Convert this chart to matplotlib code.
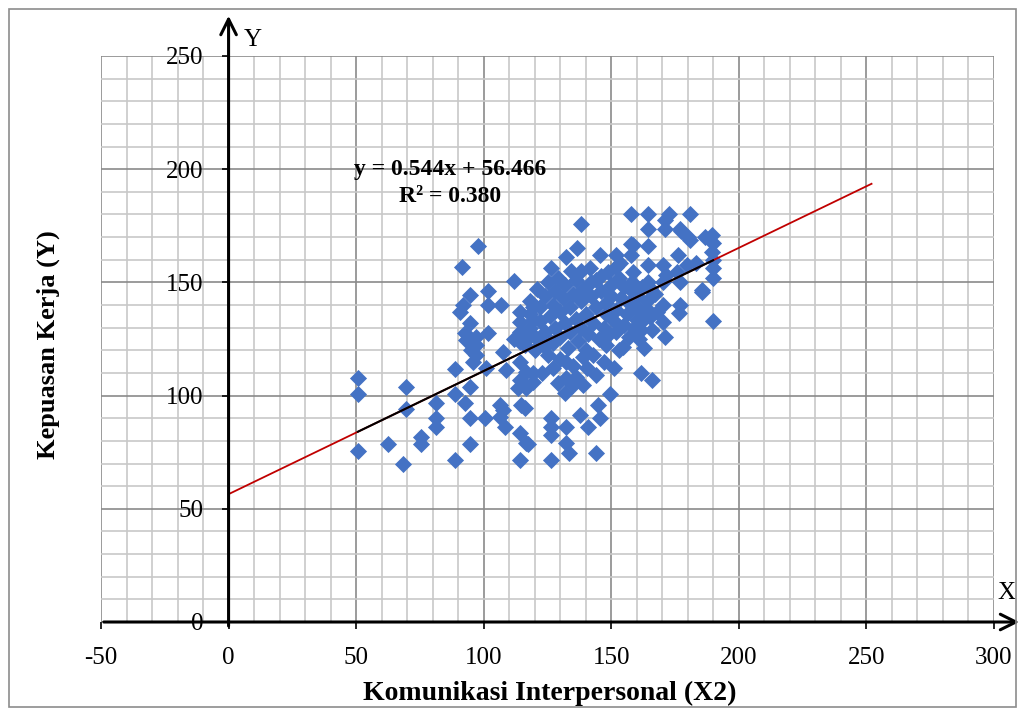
import matplotlib.pyplot as plt
from matplotlib.patches import Rectangle
import numpy as np

plt.rcParams['font.family'] = ['Liberation Serif', 'DejaVu Serif']
plt.rcParams['axes.unicode_minus'] = False

x_outer = [50.7, 50.7, 50.7, 62.5, 69.7, 69.7, 68.4, 75.6, 75.6, 81.4, 81.4, 81.4,
           88.6, 88.6, 92.5, 94.5, 100.4, 94.5, 88.6, 94.5,
           106.3, 106.3, 108.2, 107.5, 114.1, 117.4, 114.1, 116.1, 114.8]
y_outer = [107.6, 100.7, 75.7, 78.6, 103.7, 94.0, 69.8, 81.9, 78.6, 96.6, 90.0, 86.3,
           111.6, 100.7, 96.6, 90.0, 90.0, 78.6, 71.6, 104.0,
           95.8, 90.7, 86.3, 93.6, 83.3, 78.6, 71.6, 94.4, 95.8]

x_upleft = [97.8, 91.6, 111.8, 101.7, 94.5, 91.9, 90.6, 101.7, 106.9, 94.5, 92.5, 101.7,
            97.1, 97.1, 95.2, 97.1, 95.8, 101.0, 107.6, 108.9, 93.2]
y_upleft = [166.1, 156.9, 150.8, 146.3, 144.4, 140.0, 137.1, 140.0, 140.0, 131.9, 127.5, 127.5,
            126.0, 122.3, 120.1, 117.9, 115.0, 112.1, 119.4, 111.3, 124.6]

x_mid = [114.1, 114.1, 119.3, 114.1, 114.1, 116.7, 114.1, 116.7, 114.1, 119.3, 119.3, 113.5,
         116.7, 116.1, 112.0, 119.2]
y_mid = [137.1, 132.6, 139.3, 128.3, 123.8, 127.5, 115.0, 110.6, 106.9, 109.8, 106.1, 103.2,
         103.2, 122.3, 125.0, 133.4]

x_low = [149.4, 144.8, 137.6, 145.5, 140.9, 132.4, 126.5, 126.5, 126.5, 132.4, 133.5, 143.9,
         126.5, 116.7, 132.4, 139.0, 140.3, 139.0, 132.4, 127.2, 129.1, 131.8, 135.0, 148.1,
         154.6, 123.3, 127.2]
y_low = [100.6, 95.8, 91.4, 90.0, 86.0, 86.0, 90.0, 86.3, 82.6, 78.9, 74.5, 74.8,
         71.6, 78.9, 115.0, 117.2, 112.1, 104.7, 107.7, 112.1, 105.4, 101.0, 104.7, 122.3,
         121.6, 122.3, 123.1]

x_right = [189.7, 171.0, 161.8, 162.7, 161.8, 165.8, 170.3, 176.9, 176.6, 170.3, 164.4, 185.4,
           160.5, 165.1, 159.9]
y_right = [133.0, 126.0, 129.0, 120.9, 109.8, 106.9, 140.0, 140.0, 136.3, 132.6, 137.8, 145.9,
           137.8, 134.8, 133.4]

x_top = [138.3, 157.9, 164.4, 172.7, 180.8, 164.4, 171.0, 171.0, 176.9, 180.1, 189.3, 189.9,
         189.3, 189.9, 189.9, 186.7, 157.9, 164.4, 136.6, 132.4, 126.5, 134.4, 138.3, 145.5,
         152.0, 153.3, 157.9, 164.4, 170.3, 176.2, 179.5, 183.3, 164.4, 171.6, 176.9, 185.7,
         189.9, 148.8, 152.0, 141.6, 144.2, 158.6, 159.2, 175.6, 165.1, 170.3, 158.6, 158.6,
         180.8, 177.5]
y_top = [175.8, 180.2, 180.2, 180.2, 180.2, 173.4, 173.4, 177.6, 173.4, 170.2, 170.9, 167.3,
         163.6, 159.9, 156.2, 169.9, 167.0, 166.1, 165.0, 161.4, 156.2, 155.2, 155.2, 162.1,
         162.1, 158.4, 162.1, 157.7, 157.7, 162.1, 157.7, 158.4, 150.3, 153.3, 150.3, 146.6,
         151.8, 154.7, 156.9, 156.2, 151.1, 154.7, 148.1, 154.7, 147.4, 150.3, 145.9, 166.5,
         168.7, 172.8]

x_core = [118, 118, 118, 120, 121, 122, 122, 124, 124, 125, 126, 126, 127, 128, 128, 129,
          130, 130, 131, 132, 132, 133, 134, 134, 135, 136, 136, 137, 138, 138, 139, 140,
          140, 141, 142, 142, 143, 144, 145, 146, 146, 147, 148, 148, 149, 150, 150, 151,
          152, 152, 153, 154, 155, 155, 156, 157, 157, 158, 159, 160, 160, 161, 162, 163,
          164, 166, 167, 168, 125, 130, 135, 143, 147, 151, 120, 117, 123, 136, 144, 153]
y_core = [130, 136, 142, 126, 147, 133, 139, 128, 144, 150, 124, 135, 140, 130, 146, 152,
          126, 137, 143, 132, 149, 121, 128, 139, 145, 134, 151, 124, 130, 142, 147, 136,
          120, 127, 144, 150, 132, 139, 125, 146, 153, 130, 136, 141, 127, 149, 144, 133,
          138, 128, 152, 143, 131, 148, 136, 126, 141, 150, 130, 144, 139, 125, 148, 134,
          142, 129, 145, 137, 118, 116, 113, 118, 115, 112, 120, 125, 110, 108, 109, 120]

x_all = x_outer + x_upleft + x_mid + x_low + x_right + x_top + x_core
y_all = y_outer + y_upleft + y_mid + y_low + y_right + y_top + y_core

# linear trend as printed on the chart
slope = 0.544
intercept = 56.466
trend_x = [0, 252]
data_x = [min(x_all), max(x_all)]

fig = plt.figure(figsize=(10.21, 7.10), dpi=100)
fig.patches.append(Rectangle((9 / 1021, 3 / 710), 1007 / 1021, 698 / 710,
                             transform=fig.transFigure, fill=False,
                             edgecolor='#8c8c8c', linewidth=1.2))
ax = fig.add_axes([101 / 1021, 1 - 622 / 710, 893 / 1021, 566 / 710])

ax.set_xlim(-50, 300)
ax.set_ylim(0, 250)
ax.set_xticks(np.arange(-50, 301, 50))
ax.set_yticks(np.arange(0, 251, 50))
ax.set_xticks(np.arange(-50, 301, 10), minor=True)
ax.set_yticks(np.arange(0, 251, 10), minor=True)
ax.grid(which='minor', color='#c8c8c8', linewidth=1.2)
ax.grid(which='major', color='#8a8a8a', linewidth=1.2)
ax.set_axisbelow(True)

for s in ax.spines.values():
    s.set_visible(False)
ax.spines['left'].set_position(('data', 0))
ax.spines['bottom'].set_position(('data', 0))
ax.tick_params(which='minor', length=0)
ax.tick_params(which='major', direction='out', length=5, width=1.2,
               labelsize=18, color='black')
ax.tick_params(axis='y', pad=13)
ax.tick_params(axis='x', pad=13)

ax.scatter(x_all, y_all, marker='D', s=76, color='#4472c4', linewidths=0, zorder=3)
ax.plot(trend_x, [slope * v + intercept for v in trend_x], color='#c00000',
        linewidth=1.3, zorder=4)
ax.plot(data_x, [slope * v + intercept for v in data_x], color='black',
        linewidth=1.5, zorder=5)

# arrowed axes
ax.annotate('', xy=(0, 269), xytext=(0, -3), xycoords='data',
            arrowprops=dict(arrowstyle='->', color='black', lw=2.2,
                            mutation_scale=28), annotation_clip=False, zorder=6)
ax.annotate('', xy=(311, 0), xytext=(-50, 0), xycoords='data',
            arrowprops=dict(arrowstyle='->', color='black', lw=2.2,
                            mutation_scale=28), annotation_clip=False, zorder=6)
ax.text(6, 257, 'Y', fontsize=18, ha='left', va='center', clip_on=False)
ax.text(305, 13, 'X', fontsize=18, ha='center', va='center', clip_on=False)

ax.text(87, 200, 'y = 0.544x + 56.466', fontsize=17, fontweight='bold',
        ha='center', va='center')
ax.text(87, 188, 'R² = 0.380', fontsize=17, fontweight='bold',
        ha='center', va='center')

fig.text(48 / 1021, 1 - 345 / 710, 'Kepuasan Kerja (Y)', rotation=90,
         fontsize=19, fontweight='bold', ha='center', va='center')
fig.text(550 / 1021, 1 - 693 / 710, 'Komunikasi Interpersonal (X2)',
         fontsize=20, fontweight='bold', ha='center', va='center')

fig.savefig('out.png', dpi=100)
